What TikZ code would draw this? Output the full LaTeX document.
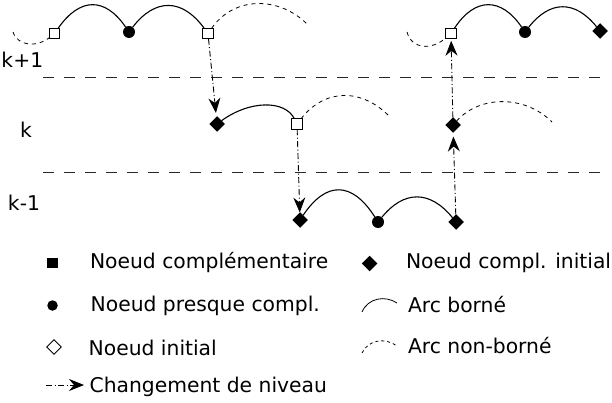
\documentclass[tikz,border=0pt]{standalone}
\usepackage{fontspec}
\setmainfont{DejaVu Sans}
\usetikzlibrary{arrows.meta,shapes.geometric}
\begin{document}
\begin{tikzpicture}[x=1pt,y=-1pt,
  every node/.style={inner sep=0pt,outer sep=0pt},
  txt/.style={anchor=base west,font=\fontsize{20.3pt}{24pt}\selectfont},
  sq/.style={rectangle,draw,fill=white,minimum size=10.5pt,line width=0.8pt},
  fsq/.style={rectangle,fill=black,minimum size=10.5pt},
  dot/.style={circle,fill=black,minimum size=12pt},
  dia/.style={diamond,fill=black,minimum size=15.5pt},
  odia/.style={diamond,draw,minimum size=14.5pt,line width=0.9pt},
  bor/.style={line width=1.1pt},
  nbor/.style={line width=0.8pt,dash pattern=on 4pt off 4pt},
  lvl/.style={line width=1pt,dash pattern=on 11pt off 10pt,black!85},
  chg/.style={line width=0.9pt,dash pattern=on 6pt off 2.5pt on 1pt off 2.5pt,-{Stealth[length=15pt,width=12pt,inset=5pt]}}]
\useasboundingbox (0,0) rectangle (612,403);
% level separators
\coordinate (l1a) at (43,78); \coordinate (l1b) at (608,78);
\coordinate (l2a) at (43,173); \coordinate (l2b) at (608,173);
\draw[lvl] (l1a) -- (l1b);
\draw[lvl] (l2a) -- (l2b);
% level labels
\node[txt] (lk1) at (1.5,68) {k+1};
\node[txt] (lk) at (20,138) {k};
\node[txt] (lkm) at (8,211) {k-1};
% level k+1 left
\node[sq] (s1) at (54.5,33.5) {};
\node[dot] (c1) at (129,32) {};
\node[sq] (s2) at (208,33.5) {};
\coordinate (e1) at (13,32);
\coordinate (e2) at (307,24);
% level k
\node[dia] (d1) at (217,124) {};
\node[sq] (s3) at (297,124) {};
\coordinate (e3) at (390,117);
% level k-1
\node[dia] (d2) at (300,220) {};
\node[dot] (c2) at (378,222) {};
\node[dia] (d3) at (456,222) {};
% level k right
\node[dia] (d4) at (453,125) {};
\coordinate (e4) at (552,122);
% level k+1 right
\node[sq] (s4) at (451,33.5) {};
\node[dot] (c3) at (525,32) {};
\node[dia] (d5) at (600,31) {};
\coordinate (e5) at (407,32);
% arcs
\draw[nbor] (e1) .. controls (18,47) and (38,47) .. (s1);
\draw[bor] (s1) .. controls (80,-3) and (105,-3) .. (c1);
\draw[bor] (c1) .. controls (155,-2) and (182,-2) .. (s2);
\draw[nbor] (s2) .. controls (235,-5) and (280,-3) .. (e2);
\draw[bor] (d1) .. controls (250,100) and (285,100) .. (s3);
\draw[nbor] (s3) .. controls (325,88) and (362,88) .. (e3);
\draw[bor] (d2) .. controls (326,181) and (352,181) .. (c2);
\draw[bor] (c2) .. controls (404,190) and (430,190) .. (d3);
\draw[nbor] (d4) .. controls (480,95) and (525,95) .. (e4);
\draw[nbor] (e5) .. controls (412,50) and (432,50) .. (s4);
\draw[bor] (s4) .. controls (475,-3) and (501,-3) .. (c3);
\draw[bor] (c3) .. controls (550,0) and (575,0) .. (d5);
% level changes
\draw[chg,shorten >=4pt] (s2) -- (d1);
\draw[chg] (s3) -- (d2);
\draw[chg,shorten >=4pt] (d3) -- (d4);
\draw[chg,shorten >=2pt] (d4) -- (s4);
% legend
\node[fsq] (lg1) at (52.5,263) {};
\node[txt] (t1) at (90,268) {Noeud complémentaire};
\node[dot,minimum size=10.5pt] (lg2) at (52.5,305.5) {};
\node[txt] (t2) at (90.7,311) {Noeud presque compl.};
\node[odia] (lg3) at (54,347) {};
\node[txt] (t3) at (88.7,355) {Noeud initial};
\coordinate (lg4a) at (46,385); \coordinate (lg4b) at (84,385);
\draw[chg] (lg4a) -- (lg4b);
\node[txt] (t4) at (89.6,392) {Changement de niveau};
\node[dia] (lg5) at (369.5,263.5) {};
\node[txt] (t5) at (406,268) {Noeud compl. initial};
\coordinate (lg6a) at (362,312); \coordinate (lg6b) at (397,303);
\draw[line width=0.8pt] (lg6a) .. controls (368,298) and (385,295) .. (lg6b);
\node[txt] (t6) at (408,312) {Arc borné};
\coordinate (lg7a) at (362,353); \coordinate (lg7b) at (397,346);
\draw[line width=0.8pt,dash pattern=on 3pt off 3pt] (lg7a) .. controls (368,340) and (385,337) .. (lg7b);
\node[txt] (t7) at (408,353) {Arc non-borné};
\end{tikzpicture}
\end{document}
